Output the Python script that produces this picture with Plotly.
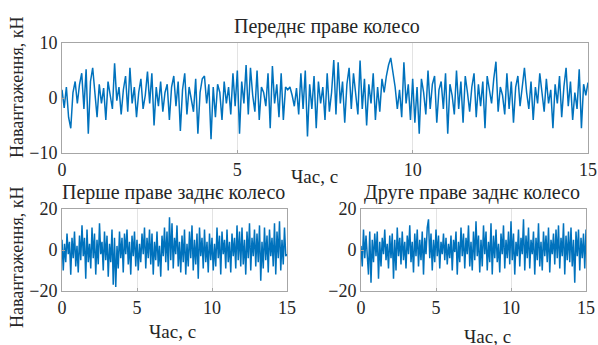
import plotly.graph_objects as go

# Front right wheel, 16 samples per second, 0..15 s
front_right = [
    1.5, -1.8, 2.0, -3.5, -5.5, 1.0, 3.0, -1.0, 2.5, 4.5, -2.0, 5.2, -6.5, 3.0, 5.5, 1.0,
    -3.5, 2.5, -1.0, 1.8, -4.0, 3.0, 0.5, -2.0, 6.3, -0.5, 2.0, -3.0, 1.5, 4.0, -2.5, 5.5,
    -1.0, 2.0, -3.5, 1.0, 3.5, -2.0, 0.5, 4.8, -1.0, 4.5, -5.0, 2.0, -1.5, 3.0, -2.5, 1.0,
    2.5, -4.0, 2.0, 4.0, -1.5, 3.0, -6.0, 1.5, 4.5, -3.0, 2.0, 0.0, -2.5, 3.5, -6.5, 1.0,
    3.5, 4.0, -1.0, 2.5, -7.5, 2.0, -3.5, 2.5, 1.0, -4.0, 3.0, -1.0, 2.0, -3.0, 4.5, -1.5,
    5.0, -6.5, 3.0, -1.0, 6.0, -3.0, 5.5, 0.5, -2.5, 5.0, -4.0, 2.0, 1.0, -1.5, 4.5, -5.5,
    5.8, -1.0, 2.5, -3.5, 4.5, -4.0, 2.0, 1.5, 2.0, 0.5, -1.5, 1.8, -3.0, 4.5, -2.0, 5.0,
    -7.0, 2.5, -2.0, 4.0, -5.5, 3.0, -1.0, 2.0, -4.0, 4.5, -2.5, 1.0, 6.9, -3.0, 6.5, -1.0,
    3.0, -4.5, 2.5, 5.5, -2.0, 4.5, 0.0, -3.0, 6.8, -2.0, 3.5, -5.0, 2.5, -1.0, 4.5, -4.0,
    2.0, -2.5, 3.5, 1.0, 4.0, 6.0, 7.3, 5.0, 2.0, -2.0, 1.5, -3.5, 6.5, -1.0, 2.5, -4.0,
    3.5, -4.5, 2.0, -6.5, 3.5, 1.0, -3.0, 5.0, -2.0, 2.5, 4.0, -4.5, 1.5, 3.0, -2.0, 4.5,
    -6.5, 2.5, 0.5, -3.0, 5.0, -2.0, 3.0, -4.5, 4.0, 1.0, -2.5, 2.0, 4.5, -3.5, 2.5, -1.5,
    3.0, -5.5, 4.0, 1.5, -1.0, 3.5, 6.6, -2.5, 2.0, 0.5, -3.0, 4.5, -2.0, 3.0, -4.5, 2.0,
    4.0, -1.5, 2.5, 5.5, 1.0, -2.0, 3.0, -4.0, 2.0, -1.0, 4.5, 0.5, -2.5, 3.5, -1.0, 1.5,
    -5.5, 2.5, -1.0, 4.0, -3.5, 2.0, 5.5, -1.5, 3.0, -4.0, 1.0, -2.0, 5.2, -5.5, 2.5, 0.5,
    2.8,
]

# First right rear wheel, 12 samples per second
rear_right_1 = [
    5, -10, 3, -6, 8, -2, 4, -12, 6, -4, 9, -8,
    2, -11, 7, -5, 12, -3, 6, -14, 10, -6, 3, -9,
    11, -4, 8, -12, 5, -7, 13, -2, 4, -10, 9, -5,
    7, -13, 3, -6, 10, -17, 6, -18, 2, -9, 9, -4,
    6, -11, 8, -2, 10, -7, 4, -12, 7, -3, 9, -8,
    5, -10, 3, -6, 8, -2, 11, -9, 6, -4, 10, -7,
    8, -12, 4, -5, 9, -8, 2, -13, 7, -3, 11, -6,
    9, -10, 16, -5, 13, -9, 6, -2, 12, -8, 4, -11,
    7, -6, 10, -12, 3, -8, 9, -4, 12, -10, 5, -7,
    8, -14, 11, -3, 6, -9, 10, -6, 4, -11, 8, -5,
    6, -10, 3, -8, 11, -4, 7, -12, 9, -2, 5, -9,
    10, -6, 4, -11, 8, -3, 6, -9, 12, -5, 9, -8,
    11, -7, 5, -12, 9, -4, 13, -10, 6, -3, 10, -8,
    8, -6, 12, -15, 4, -9, 11, -5, 7, -11, 10, -3,
    6, -8, 13, -12, 9, -4, 14, -10, 5, -7, 11, -3,
    -2,
]

# Second right rear wheel, 12 samples per second
rear_right_2 = [
    2, -8, 10, -4, 7, -1, -12, 9, -16, 5, -6, 8,
    -3, 9, -14, 4, -8, 6, -2, 10, -5, 3, -9, 7,
    -4, 8, -14, 5, -10, 11, -3, 6, -7, 9, -5, 4,
    -9, 7, -2, 12, -6, 4, -11, 8, -3, 10, -8, 5,
    -5, 9, -12, 6, -2, 11, 15, -4, 8, -10, 5, -6,
    10, -3, 7, -9, 4, -2, 8, -5, 6, -7, 3, -4,
    7, -10, 5, -1, 9, -12, 4, -6, 11, -3, 8, -9,
    6, -2, 12, -8, 4, -10, 9, -5, 14, -3, 7, -11,
    5, -8, 12, -2, 9, -10, 4, -6, 13, -12, 7, -4,
    10, -6, 3, -11, 8, -2, 12, -9, 5, -4, 9, -7,
    14, -5, 8, -12, 4, -3, 10, -8, 6, -2, 15, -10,
    7, -4, 11, -9, 5, -2, 9, -12, 6, -5, 13, -8,
    4, -10, 9, -3, 7, -6, 11, -11, 5, -2, 8, -7,
    10, -4, 12, -9, 6, -3, 13, -12, 7, -5, 9, -6,
    11, -8, 5, -16, 9, -3, 10, -10, 6, -4, 8, -9,
    10,
]

titles = ["Переднє праве колесо", "Перше праве заднє колесо", "Друге праве заднє колесо"]
x_label = "Час, с"
y_label = "Навантаження, кН"
x_ticks = [0, 5, 10, 15]
y_ticks_top = [-10, 0, 10]
y_ticks_bottom = [-20, 0, 20]

t_front = [i / 16 for i in range(len(front_right))]
t_rear1 = [i / 12 for i in range(len(rear_right_1))]
t_rear2 = [i / 12 for i in range(len(rear_right_2))]

W, H = 598, 345
BLUE = "#0072BD"
FONT = "Liberation Serif"
TXT = "#262626"

fig = go.Figure()
fig.add_trace(go.Scatter(x=t_front, y=front_right, mode="lines",
                         line=dict(color=BLUE, width=1.5), xaxis="x", yaxis="y"))
fig.add_trace(go.Scatter(x=t_rear1, y=rear_right_1, mode="lines",
                         line=dict(color=BLUE, width=1.5), xaxis="x2", yaxis="y2"))
fig.add_trace(go.Scatter(x=t_rear2, y=rear_right_2, mode="lines",
                         line=dict(color=BLUE, width=1.5), xaxis="x3", yaxis="y3"))

def px_x(p):
    return p / W

def px_y(p):
    return 1 - p / H

common_x = dict(range=[0, 15], tickvals=x_ticks, showgrid=True, gridcolor="#e3e3e3",
                gridwidth=1, zeroline=False, showline=True, mirror=True, automargin=False,
                linecolor="#a6a6a6", linewidth=1, ticks="inside", ticklen=3,
                tickcolor="#a6a6a6", tickfont=dict(family=FONT, size=18, color=TXT))
common_y = dict(showgrid=False, zeroline=False, showline=True, mirror=True, automargin=False,
                linecolor="#a6a6a6", linewidth=1, ticks="inside", ticklen=3,
                tickcolor="#a6a6a6", tickfont=dict(family=FONT, size=18, color=TXT))

fig.update_layout(
    template="none",
    width=W, height=H, margin=dict(l=0, r=0, t=0, b=0),
    paper_bgcolor="white", plot_bgcolor="white", showlegend=False,
    font=dict(family=FONT),
    xaxis=dict(common_x, domain=[px_x(62), px_x(588)], anchor="y"),
    yaxis=dict(common_y, domain=[px_y(153), px_y(43)], range=[-10, 10],
               tickvals=y_ticks_top, anchor="x"),
    xaxis2=dict(common_x, domain=[px_x(62), px_x(287)], anchor="y2"),
    yaxis2=dict(common_y, domain=[px_y(291), px_y(209)], range=[-20, 20],
                tickvals=y_ticks_bottom, anchor="x2"),
    xaxis3=dict(common_x, domain=[px_x(361), px_x(586)], anchor="y3"),
    yaxis3=dict(common_y, domain=[px_y(291), px_y(209)], range=[-20, 20],
                tickvals=y_ticks_bottom, anchor="x3"),
)

ann = []
def add_text(text, x, y, size=20, angle=0):
    ann.append(dict(text=text, x=px_x(x), y=px_y(y), xref="paper", yref="paper",
                    showarrow=False, textangle=angle, xanchor="center", yanchor="middle",
                    font=dict(family=FONT, size=size, color=TXT)))

add_text(titles[0], 327, 27)
add_text(titles[1], 174, 193)
add_text(titles[2], 472, 193)
add_text(x_label, 314, 176, size=19)
add_text(x_label, 173, 331, size=19)
add_text(x_label, 487, 336, size=19)
add_text(y_label, 17, 88, size=18, angle=-90)
add_text(y_label, 17, 258, size=18, angle=-90)
fig.update_layout(annotations=ann)

fig.write_html("out.html", config={"displayModeBar": False},
               post_script="document.body.style.margin='0';document.body.style.padding='0';")
